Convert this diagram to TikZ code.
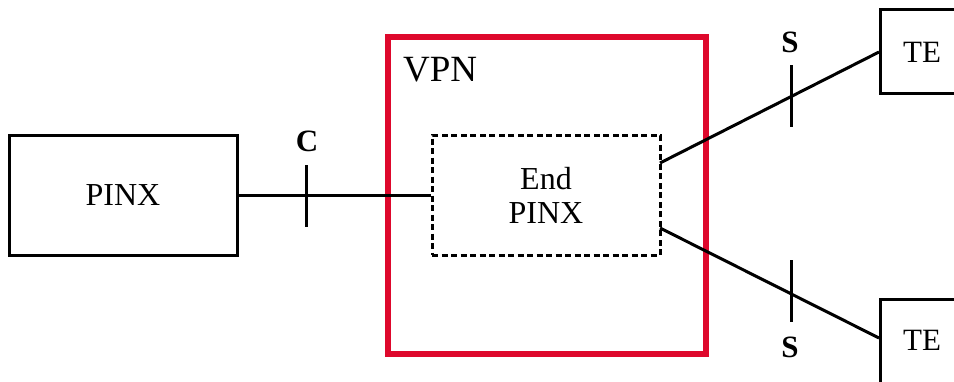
\documentclass[tikz,border=0pt]{standalone}
\usepackage{fontspec}
\setmainfont{Liberation Serif}
\definecolor{vpnred}{RGB}{222,8,44}
\begin{document}
\begin{tikzpicture}[x=1pt,y=-1pt,
  box/.style={draw=black,line width=3pt,minimum width=228pt,minimum height=120pt,inner sep=0pt,font=\fontsize{32}{34}\selectfont},
  tebox/.style={draw=black,line width=3pt,minimum width=300pt,minimum height=84pt,inner sep=0pt},
  wire/.style={line width=3pt},
  tick/.style={line width=3pt},
  lbl/.style={font=\fontsize{31}{34}\selectfont\bfseries,inner sep=0pt}
]
\useasboundingbox (0,0) rectangle (954,381);
\clip (0,0) rectangle (954,381);
% boxes
\node[box] (pinx) at (123,195) {PINX};
\node[box,dashed,dash pattern=on 6pt off 3.5pt,align=center] (end) at (546,195) {End\\PINX};
\node[draw=vpnred,line width=5.5pt,minimum width=318pt,minimum height=317pt,inner sep=0pt] (vpn) at (547,195.5) {};
\node[font=\fontsize{37}{40}\selectfont,anchor=west,inner sep=0pt] (vpnlbl) at (403,70) {VPN};
\node[tebox,anchor=north west] (te1) at (879,8) {};
\node[tebox,anchor=north west] (te2) at (879,298) {};
\node[font=\fontsize{31}{34}\selectfont,inner sep=0pt] (te1t) at (922,52) {TE};
\node[font=\fontsize{31}{34}\selectfont,inner sep=0pt] (te2t) at (922,340) {TE};
% connection points
\coordinate (e1) at (660,163);
\coordinate (e2) at (660,228);
\coordinate (t1) at (879,52);
\coordinate (t2) at (879,338);
% wires
\draw[wire] (pinx.east) -- (end.west);
\draw[wire] (e1) -- (t1);
\draw[wire] (e2) -- (t2);
% ticks
\coordinate (ca) at (306,165); \coordinate (cb) at (306,227);
\draw[tick] (ca) -- (cb);
\coordinate (sa) at (791,65); \coordinate (sb) at (791,127);
\draw[tick] (sa) -- (sb);
\coordinate (sc) at (791,260); \coordinate (sd) at (791,322);
\draw[tick] (sc) -- (sd);
% labels
\node[lbl] (c) at (307,141) {C};
\node[lbl] (s1) at (790,42) {S};
\node[lbl] (s2) at (790,347) {S};
\end{tikzpicture}
\end{document}
